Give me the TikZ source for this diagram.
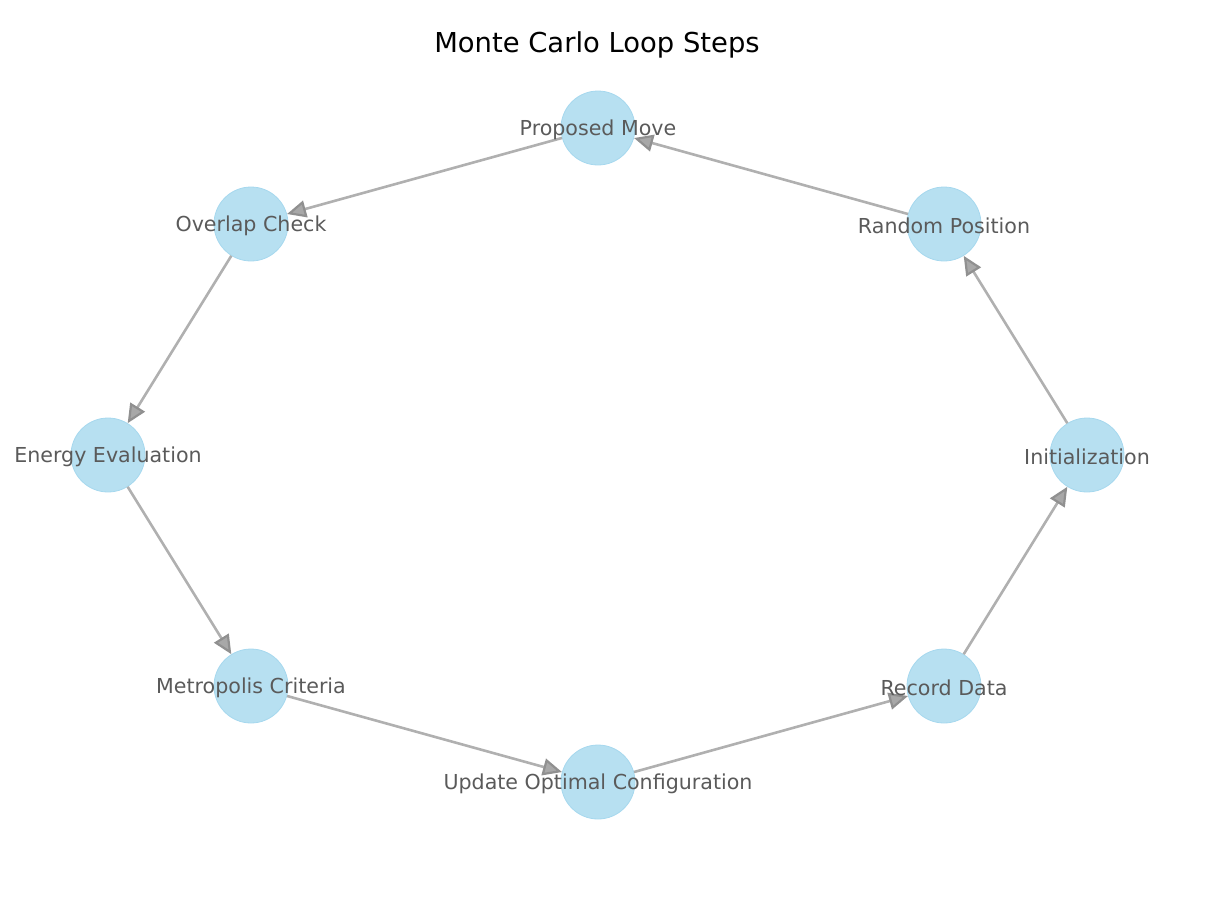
\documentclass[tikz,border=0pt]{standalone}
\usepackage{fontspec}
\setmainfont{DejaVu Sans}
\usetikzlibrary{arrows.meta}
\definecolor{nodefill}{HTML}{B7E0F1}
\definecolor{nodeedge}{HTML}{A6D8EE}
\definecolor{edgecol}{HTML}{B0B0B0}
\definecolor{tipfill}{HTML}{A8A8A8}
\definecolor{tipline}{HTML}{909090}
\definecolor{labcol}{HTML}{5A5A5A}
\tikzset{
  stepnode/.style={circle, fill=nodefill, draw=nodeedge, line width=0.8pt, minimum size=74pt, inner sep=0pt},
  steplabel/.style={text=labcol, font=\fontsize{20.6}{24}\selectfont, inner sep=0pt, yshift=-2pt},
  flow/.style={draw=edgecol, line width=2.6pt, -{Triangle[length=19pt,width=17pt,fill=tipfill,color=tipline, line width=2.2pt]}},
}
\begin{document}
\begin{tikzpicture}[x=1pt,y=-1pt]
\useasboundingbox (0,0) rectangle (1221,906);
\node[font=\fontsize{27.4}{32}\selectfont] (title) at (597,45) {Monte Carlo Loop Steps};
\node[stepnode] (pm) at (598,128) {};
\node[stepnode] (rp) at (944,224) {};
\node[stepnode] (in) at (1087,455) {};
\node[stepnode] (rd) at (944,686) {};
\node[stepnode] (uo) at (598,782) {};
\node[stepnode] (mc) at (251,686) {};
\node[stepnode] (ee) at (108,455) {};
\node[stepnode] (oc) at (251,224) {};
\draw[flow] (in) -- (rp);
\draw[flow] (rp) -- (pm);
\draw[flow] (pm) -- (oc);
\draw[flow] (oc) -- (ee);
\draw[flow] (ee) -- (mc);
\draw[flow] (mc) -- (uo);
\draw[flow] (uo) -- (rd);
\draw[flow] (rd) -- (in);
\node[steplabel] at (pm) {Proposed Move};
\node[steplabel] at (rp) {Random Position};
\node[steplabel] at (in) {Initialization};
\node[steplabel] at (rd) {Record Data};
\node[steplabel] at (uo) {Update Optimal Configuration};
\node[steplabel] at (mc) {Metropolis Criteria};
\node[steplabel] at (ee) {Energy Evaluation};
\node[steplabel] at (oc) {Overlap Check};
\end{tikzpicture}
\end{document}
